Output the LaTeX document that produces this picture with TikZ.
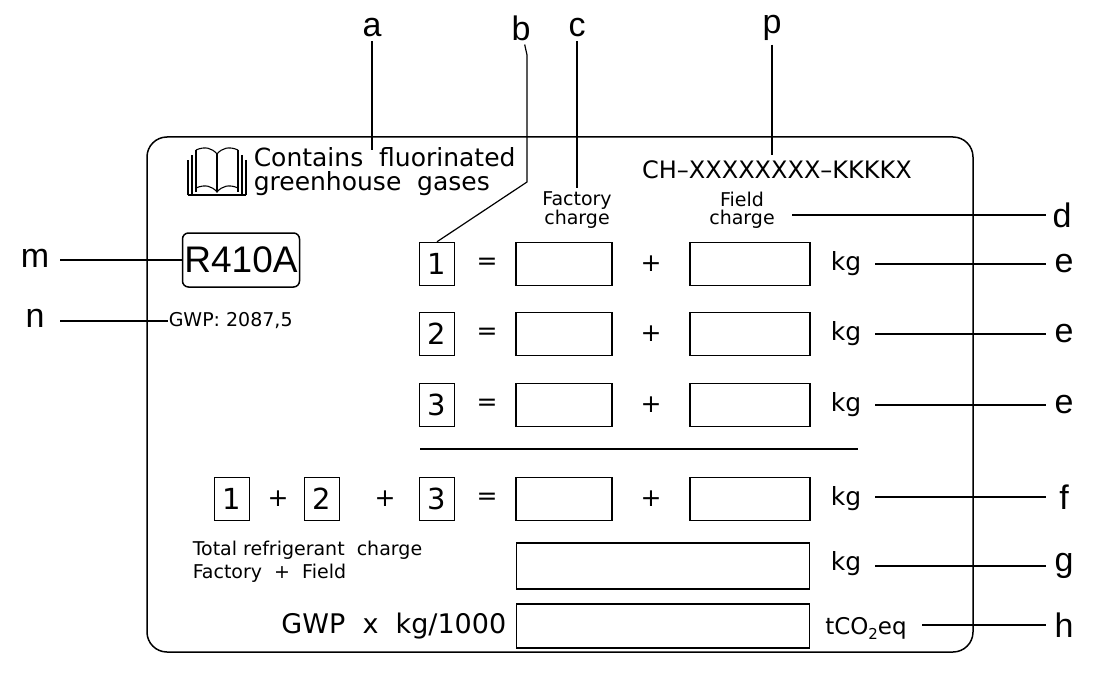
\documentclass[tikz,border=0pt]{standalone}
\usepackage{fontspec}
\setmainfont{DejaVu Sans}
\newfontfamily\lab{Liberation Sans}
\begin{document}
\begin{tikzpicture}[x=1pt,y=-1pt,line width=1.5pt,
  lt/.style={font=\fontsize{34}{34}\selectfont\lab},
  tx/.style={font=\fontsize{25}{26}\selectfont,align=center,inner sep=0},
  nb/.style={draw,minimum width=35,minimum height=43,inner sep=0,font=\fontsize{29}{29}\selectfont},
  bb/.style={draw,inner sep=0},
  ld/.style={line width=1.2pt}]
\useasboundingbox (0,0) rectangle (1095,682);
\draw[rounded corners=20] (147,137) rectangle (973,652);
% labels
\node[lt] (la) at (372,28) {a};
\node[lt] (lb) at (521,28) {b};
\node[lt] (lc) at (577,28) {c};
\node[lt] (lp) at (772,28) {p};
\node[lt] (lm) at (35,258) {m};
\node[lt] (ln) at (35,318) {n};
\node[lt] (ld1) at (1062,215) {d};
\node[lt] (le1) at (1064,264) {e};
\node[lt] (le2) at (1064,334) {e};
\node[lt] (le3) at (1064,405) {e};
\node[lt] (lf) at (1064,497) {f};
\node[lt] (lg) at (1064,566) {g};
\node[lt] (lh) at (1064,625) {h};
\coordinate (pd) at (1046,215);
\foreach \n/\y in {e1/264,e2/334,e3/405,f/497,g/566,h/625} \coordinate (p\n) at (1046,\y);
\coordinate (pm) at (60,260);
\coordinate (pn) at (60,321);
% book
\begin{scope}[line width=1.1pt]
\draw (188,195) -- (188,160) (192,195) -- (192,155) (196,192) -- (196,150);
\draw (196,150) .. controls (205,146) and (212,148) .. (217,154) .. controls (222,148) and (229,146) .. (238,150);
\draw (196,188) .. controls (205,184) and (212,186) .. (217,192) .. controls (222,186) and (229,184) .. (238,188);
\draw (217,154) -- (217,192);
\draw (238,150) -- (238,192) (242,155) -- (242,195) (246,160) -- (246,195);
\draw (188,195) -- (246,195);
\end{scope}
\node[tx,align=left,anchor=west,font=\fontsize{25}{24}\selectfont] (cont) at (253,172) {Contains\ \ fluorinated\\greenhouse\ \ gases};
\node[tx,font=\fontsize{24}{24}\selectfont] (ch) at (777,170) {CH--XXXXXXXX--KKKKX};
\node[tx,font=\fontsize{19}{18}\selectfont] (fac) at (577,210) {Factory\\charge};
\node[tx,font=\fontsize{19}{18}\selectfont] (fie) at (742,210) {Field\\charge};
% R410A
\node[draw,rounded corners=6,minimum width=117,minimum height=54,inner sep=0,font=\fontsize{37}{37}\selectfont\lab] (r) at (241,260) {R410A};
\node[tx,anchor=west,font=\fontsize{19}{19}\selectfont] (gwp) at (168,321) {GWP:\ 2087,5};
% rows
\foreach \i/\y in {1/264,2/334,3/405} {
  \node[nb] (n\i) at (437,\y) {\i};
  \node[tx] (eq\i) at (487,\y) {=};
  \node[bb,minimum width=96,minimum height=43] (fa\i) at (564,\y) {};
  \node[tx] (pl\i) at (651,\y) {+};
  \node[bb,minimum width=120,minimum height=43] (fi\i) at (750,\y) {};
  \node[tx] (kg\i) at (846,\y) {kg};
}
\draw (420,449) -- (858,449);
\node[nb] (t1) at (232,499) {1};
\node[tx] (tp1) at (278,499) {+};
\node[nb] (t2) at (322,499) {2};
\node[tx] (tp2) at (385,499) {+};
\node[nb] (t3) at (437,499) {3};
\node[tx] (teq) at (487,499) {=};
\node[bb,minimum width=96,minimum height=43] (tfa) at (564,499) {};
\node[tx] (tpl) at (651,499) {+};
\node[bb,minimum width=120,minimum height=43] (tfi) at (750,499) {};
\node[tx] (tkg) at (846,499) {kg};
\node[tx,align=left,anchor=west,font=\fontsize{19}{23}\selectfont] (tot) at (192,562) {Total\ refrigerant\ \ charge\\Factory\ \ +\ \ Field};
\node[bb,minimum width=293,minimum height=46] (totb) at (663,566) {};
\node[tx] (kg5) at (846,564) {kg};
\node[tx,anchor=east,font=\fontsize{27}{27}\selectfont] (gk) at (507,626) {GWP\ \ x\ \ kg/1000};
\node[bb,minimum width=293,minimum height=44] (gb) at (663,626) {};
\node[tx,font=\fontsize{23}{23}\selectfont] (tco) at (866,628) {tCO\raisebox{-5pt}{\fontsize{15}{15}\selectfont 2}eq};
% leaders
\begin{scope}[ld]
\draw (la) -- (372,150);
\draw (lb) -- (527,55) -- (527,182) -- (n1.north);
\draw (lc) -- (577,188);
\draw (lp) -- (772,155);
\draw (792,215) -- (pd);
\draw (pm) -- (r.west);
\draw (pn) -- (gwp.west);
\draw (875,264) -- (pe1);
\draw (875,334) -- (pe2);
\draw (875,405) -- (pe3);
\draw (875,497) -- (pf);
\draw (875,566) -- (pg);
\draw (922,625) -- (ph);
\end{scope}
\end{tikzpicture}
\end{document}
